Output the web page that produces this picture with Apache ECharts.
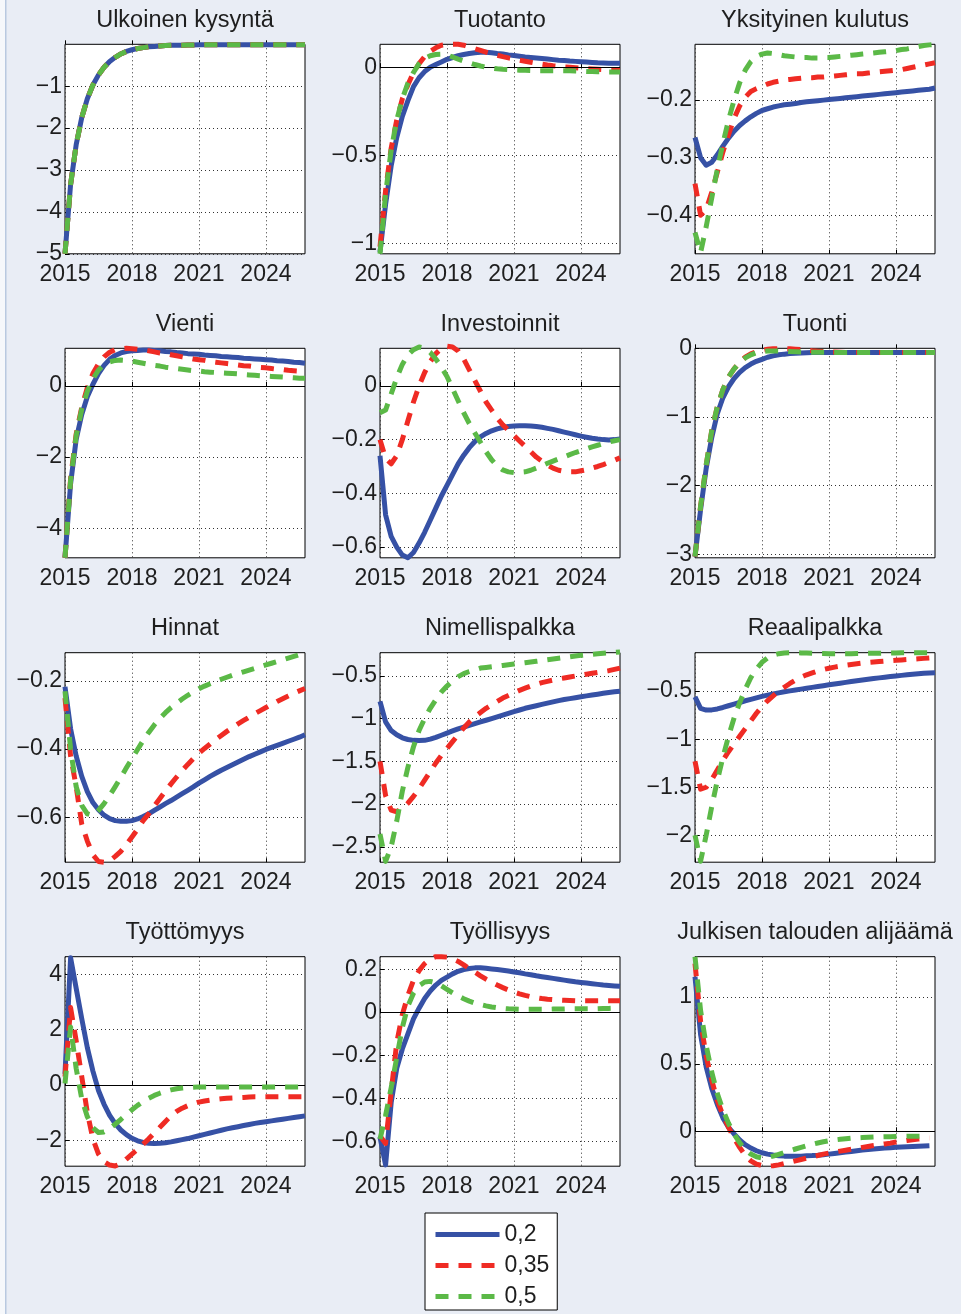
<!DOCTYPE html>
<html><head><meta charset="utf-8">
<script src="https://cdn.jsdelivr.net/npm/echarts@6/dist/echarts.min.js"></script>
<style>html,body{margin:0;padding:0;background:#e9edf5}#c{width:961px;height:1314px}</style>
</head><body><div id="c"></div><script>
const quarters = ['2015Q1','2015Q2','2015Q3','2015Q4','2016Q1','2016Q2','2016Q3','2016Q4','2017Q1','2017Q2','2017Q3','2017Q4',
'2018Q1','2018Q2','2018Q3','2018Q4','2019Q1','2019Q2','2019Q3','2019Q4','2020Q1','2020Q2','2020Q3','2020Q4',
'2021Q1','2021Q2','2021Q3','2021Q4','2022Q1','2022Q2','2022Q3','2022Q4','2023Q1','2023Q2','2023Q3','2023Q4',
'2024Q1','2024Q2','2024Q3','2024Q4','2025Q1','2025Q2','2025Q3','2025Q4'];
const titles = ['Ulkoinen kysyntä','Tuotanto','Yksityinen kulutus','Vienti','Investoinnit','Tuonti','Hinnat','Nimellispalkka','Reaalipalkka','Työttömyys','Työllisyys','Julkisen talouden alijäämä'];
const seriesNames = ['0,2','0,35','0,5'];
const yMins = [-5, -1.06, -0.467, -4.83, -0.64, -3.05, -0.732, -2.68, -2.28, -2.94, -0.716, -0.26];
const yMaxs = [0, 0.13, -0.103, 1.06, 0.14, 0, -0.117, -0.23, -0.1, 4.64, 0.26, 1.3];
const yTicks = [[-5,-4,-3,-2,-1],[-1,-0.5,0],[-0.4,-0.3,-0.2],[-4,-2,0],[-0.6,-0.4,-0.2,0],[-3,-2,-1,0],
  [-0.6,-0.4,-0.2],[-2.5,-2,-1.5,-1,-0.5],[-2,-1.5,-1,-0.5],[-2,0,2,4],[-0.6,-0.4,-0.2,0,0.2],[0,0.5,1]];
const zeroLine = [false,true,false,true,true,false,false,false,false,true,true,true];

const ulkoinen_02 = [-5.0,-3.35,-2.4,-1.75,-1.3,-0.97,-0.73,-0.55,-0.41,-0.31,-0.23,-0.17,-0.13,-0.1,-0.08,-0.06,-0.05,-0.04,-0.03,-0.025,-0.02,-0.02,-0.015,-0.015,-0.01,-0.01,-0.01,-0.01,-0.01,-0.01,-0.01,-0.01,-0.01,-0.01,-0.01,-0.01,-0.01,-0.01,-0.01,-0.01,-0.01,-0.01,-0.01,-0.01];
const ulkoinen_035 = [-5.0,-3.35,-2.4,-1.75,-1.3,-0.97,-0.73,-0.55,-0.41,-0.31,-0.23,-0.17,-0.13,-0.1,-0.08,-0.06,-0.05,-0.04,-0.03,-0.025,-0.02,-0.02,-0.015,-0.015,-0.01,-0.01,-0.01,-0.01,-0.01,-0.01,-0.01,-0.01,-0.01,-0.01,-0.01,-0.01,-0.01,-0.01,-0.01,-0.01,-0.01,-0.01,-0.01,-0.01];
const ulkoinen_05 = [-5.0,-3.35,-2.4,-1.75,-1.3,-0.97,-0.73,-0.55,-0.41,-0.31,-0.23,-0.17,-0.13,-0.1,-0.08,-0.06,-0.05,-0.04,-0.03,-0.025,-0.02,-0.02,-0.015,-0.015,-0.01,-0.01,-0.01,-0.01,-0.01,-0.01,-0.01,-0.01,-0.01,-0.01,-0.01,-0.01,-0.01,-0.01,-0.01,-0.01,-0.01,-0.01,-0.01,-0.01];

const tuotanto_02 = [-1.05,-0.78,-0.56,-0.4,-0.28,-0.19,-0.11,-0.06,-0.025,0.0,0.015,0.03,0.045,0.055,0.065,0.072,0.078,0.082,0.085,0.085,0.082,0.078,0.075,0.07,0.066,0.062,0.058,0.055,0.052,0.049,0.046,0.043,0.04,0.038,0.035,0.033,0.031,0.029,0.027,0.025,0.024,0.023,0.022,0.022];
const tuotanto_035 = [-1.02,-0.7,-0.46,-0.3,-0.18,-0.1,-0.03,0.02,0.06,0.09,0.11,0.125,0.13,0.13,0.13,0.125,0.115,0.105,0.095,0.085,0.076,0.068,0.06,0.053,0.047,0.04,0.034,0.028,0.022,0.017,0.012,0.008,0.005,0.002,0.0,-0.003,-0.006,-0.008,-0.01,-0.012,-0.014,-0.015,-0.016,-0.017];
const tuotanto_05 = [-1.06,-0.72,-0.47,-0.3,-0.18,-0.09,-0.03,0.02,0.05,0.065,0.072,0.073,0.068,0.058,0.046,0.035,0.025,0.015,0.007,0.0,-0.005,-0.009,-0.012,-0.014,-0.016,-0.017,-0.018,-0.019,-0.02,-0.02,-0.02,-0.02,-0.02,-0.02,-0.02,-0.022,-0.023,-0.024,-0.025,-0.026,-0.026,-0.027,-0.027,-0.027];

const kulutus_02 = [-0.265,-0.3,-0.313,-0.308,-0.295,-0.28,-0.266,-0.254,-0.244,-0.236,-0.229,-0.223,-0.218,-0.215,-0.212,-0.21,-0.208,-0.207,-0.206,-0.204,-0.203,-0.202,-0.201,-0.2,-0.199,-0.198,-0.197,-0.196,-0.195,-0.194,-0.193,-0.192,-0.191,-0.19,-0.189,-0.188,-0.187,-0.186,-0.185,-0.184,-0.183,-0.182,-0.181,-0.179];
const kulutus_035 = [-0.345,-0.4,-0.39,-0.36,-0.325,-0.29,-0.26,-0.232,-0.21,-0.195,-0.185,-0.18,-0.176,-0.172,-0.169,-0.167,-0.165,-0.164,-0.163,-0.162,-0.161,-0.161,-0.16,-0.16,-0.159,-0.158,-0.157,-0.156,-0.155,-0.154,-0.154,-0.153,-0.152,-0.151,-0.15,-0.149,-0.148,-0.147,-0.145,-0.143,-0.141,-0.139,-0.137,-0.135];
const kulutus_05 = [-0.43,-0.465,-0.42,-0.37,-0.32,-0.275,-0.235,-0.2,-0.17,-0.148,-0.133,-0.124,-0.12,-0.118,-0.119,-0.121,-0.123,-0.124,-0.125,-0.126,-0.126,-0.127,-0.127,-0.126,-0.126,-0.125,-0.124,-0.123,-0.122,-0.121,-0.12,-0.119,-0.118,-0.117,-0.116,-0.115,-0.114,-0.112,-0.111,-0.109,-0.107,-0.105,-0.104,-0.103];

const vienti_02 = [-4.83,-2.75,-1.5,-0.8,-0.3,0.05,0.35,0.58,0.75,0.86,0.93,0.97,0.99,1.0,1.01,1.01,1.0,0.99,0.97,0.96,0.94,0.93,0.91,0.9,0.89,0.87,0.86,0.85,0.83,0.82,0.81,0.8,0.78,0.77,0.76,0.75,0.74,0.73,0.71,0.7,0.69,0.67,0.66,0.64];
const vienti_035 = [-4.83,-2.6,-1.35,-0.6,-0.05,0.35,0.62,0.82,0.95,1.02,1.05,1.06,1.05,1.03,1.01,0.99,0.96,0.93,0.91,0.88,0.85,0.82,0.79,0.76,0.74,0.72,0.69,0.67,0.65,0.63,0.61,0.59,0.57,0.56,0.54,0.52,0.51,0.49,0.47,0.46,0.44,0.43,0.42,0.4];
const vienti_05 = [-4.83,-2.65,-1.4,-0.65,-0.15,0.2,0.45,0.6,0.68,0.72,0.73,0.72,0.7,0.67,0.64,0.61,0.58,0.56,0.53,0.51,0.49,0.47,0.45,0.43,0.42,0.4,0.39,0.38,0.37,0.36,0.35,0.34,0.32,0.31,0.3,0.29,0.28,0.27,0.26,0.25,0.24,0.23,0.22,0.22];

const investoinnit_02 = [-0.26,-0.48,-0.56,-0.6,-0.63,-0.64,-0.62,-0.585,-0.545,-0.5,-0.455,-0.41,-0.37,-0.33,-0.29,-0.258,-0.23,-0.207,-0.19,-0.177,-0.167,-0.16,-0.155,-0.151,-0.149,-0.148,-0.148,-0.149,-0.151,-0.154,-0.158,-0.162,-0.167,-0.172,-0.177,-0.182,-0.187,-0.191,-0.195,-0.198,-0.2,-0.201,-0.2,-0.198];
const investoinnit_035 = [-0.2,-0.27,-0.29,-0.26,-0.2,-0.13,-0.06,0.0,0.05,0.09,0.12,0.14,0.148,0.145,0.13,0.1,0.06,0.02,-0.02,-0.06,-0.09,-0.12,-0.145,-0.165,-0.185,-0.205,-0.225,-0.245,-0.265,-0.28,-0.295,-0.306,-0.314,-0.318,-0.32,-0.32,-0.316,-0.312,-0.306,-0.3,-0.293,-0.285,-0.277,-0.268];
const investoinnit_05 = [-0.1,-0.09,-0.03,0.03,0.08,0.115,0.135,0.145,0.14,0.125,0.1,0.07,0.035,-0.01,-0.055,-0.1,-0.14,-0.175,-0.21,-0.245,-0.275,-0.298,-0.313,-0.32,-0.323,-0.322,-0.32,-0.314,-0.306,-0.297,-0.288,-0.28,-0.272,-0.264,-0.256,-0.248,-0.241,-0.234,-0.227,-0.221,-0.215,-0.209,-0.204,-0.2];

const tuonti_02 = [-3.03,-2.35,-1.75,-1.3,-0.95,-0.72,-0.56,-0.44,-0.35,-0.28,-0.23,-0.19,-0.16,-0.13,-0.11,-0.095,-0.085,-0.077,-0.071,-0.067,-0.064,-0.062,-0.061,-0.06,-0.06,-0.06,-0.06,-0.06,-0.06,-0.06,-0.06,-0.06,-0.06,-0.06,-0.06,-0.06,-0.06,-0.06,-0.06,-0.06,-0.06,-0.06,-0.06,-0.06];
const tuonti_035 = [-3.03,-2.3,-1.7,-1.2,-0.85,-0.6,-0.42,-0.3,-0.2,-0.13,-0.08,-0.05,-0.03,-0.015,-0.008,-0.005,-0.005,-0.008,-0.012,-0.02,-0.028,-0.036,-0.042,-0.048,-0.052,-0.055,-0.058,-0.06,-0.06,-0.06,-0.06,-0.06,-0.06,-0.06,-0.06,-0.06,-0.06,-0.06,-0.06,-0.06,-0.06,-0.06,-0.06,-0.06];
const tuonti_05 = [-3.03,-2.3,-1.7,-1.2,-0.85,-0.6,-0.42,-0.3,-0.21,-0.14,-0.095,-0.065,-0.048,-0.04,-0.038,-0.04,-0.043,-0.047,-0.05,-0.053,-0.055,-0.057,-0.058,-0.059,-0.06,-0.06,-0.06,-0.06,-0.06,-0.06,-0.06,-0.06,-0.06,-0.06,-0.06,-0.06,-0.06,-0.06,-0.06,-0.06,-0.06,-0.06,-0.06,-0.06];

const hinnat_02 = [-0.217,-0.34,-0.42,-0.48,-0.525,-0.557,-0.578,-0.594,-0.604,-0.61,-0.612,-0.612,-0.61,-0.605,-0.598,-0.59,-0.58,-0.57,-0.56,-0.551,-0.541,-0.531,-0.521,-0.511,-0.5,-0.49,-0.48,-0.471,-0.462,-0.454,-0.446,-0.438,-0.43,-0.422,-0.415,-0.408,-0.401,-0.395,-0.389,-0.383,-0.377,-0.371,-0.365,-0.358];
const hinnat_035 = [-0.25,-0.42,-0.51,-0.62,-0.67,-0.71,-0.73,-0.732,-0.728,-0.715,-0.7,-0.68,-0.658,-0.635,-0.61,-0.59,-0.567,-0.545,-0.523,-0.502,-0.482,-0.463,-0.445,-0.428,-0.412,-0.398,-0.385,-0.372,-0.36,-0.348,-0.337,-0.326,-0.316,-0.306,-0.296,-0.287,-0.278,-0.269,-0.26,-0.252,-0.244,-0.236,-0.229,-0.222];
const hinnat_05 = [-0.23,-0.4,-0.51,-0.565,-0.59,-0.595,-0.58,-0.56,-0.536,-0.51,-0.483,-0.455,-0.428,-0.401,-0.375,-0.351,-0.329,-0.31,-0.293,-0.278,-0.265,-0.253,-0.242,-0.232,-0.223,-0.215,-0.208,-0.201,-0.195,-0.189,-0.183,-0.178,-0.173,-0.168,-0.163,-0.158,-0.153,-0.148,-0.143,-0.138,-0.133,-0.128,-0.123,-0.118];

const nimellis_02 = [-0.8,-1.04,-1.14,-1.19,-1.225,-1.245,-1.255,-1.258,-1.255,-1.24,-1.22,-1.195,-1.17,-1.145,-1.12,-1.1,-1.08,-1.06,-1.04,-1.02,-1.0,-0.98,-0.96,-0.94,-0.92,-0.9,-0.88,-0.865,-0.85,-0.835,-0.82,-0.805,-0.79,-0.778,-0.767,-0.756,-0.745,-0.735,-0.725,-0.715,-0.705,-0.695,-0.687,-0.68];
const nimellis_035 = [-1.5,-1.9,-2.07,-2.09,-2.05,-1.99,-1.91,-1.82,-1.72,-1.62,-1.52,-1.43,-1.35,-1.27,-1.19,-1.11,-1.04,-0.98,-0.93,-0.88,-0.84,-0.8,-0.76,-0.73,-0.7,-0.67,-0.645,-0.62,-0.6,-0.58,-0.565,-0.55,-0.537,-0.525,-0.514,-0.503,-0.492,-0.481,-0.47,-0.46,-0.45,-0.44,-0.425,-0.41];
const nimellis_05 = [-2.35,-2.67,-2.5,-2.2,-1.85,-1.57,-1.33,-1.14,-1.0,-0.88,-0.78,-0.69,-0.62,-0.56,-0.51,-0.475,-0.45,-0.43,-0.41,-0.403,-0.395,-0.387,-0.379,-0.371,-0.363,-0.355,-0.347,-0.339,-0.331,-0.322,-0.313,-0.304,-0.295,-0.286,-0.277,-0.268,-0.261,-0.255,-0.249,-0.243,-0.237,-0.231,-0.226,-0.222];

const reaali_02 = [-0.56,-0.68,-0.697,-0.695,-0.685,-0.67,-0.652,-0.635,-0.618,-0.6,-0.585,-0.57,-0.555,-0.542,-0.53,-0.518,-0.507,-0.497,-0.488,-0.479,-0.47,-0.461,-0.452,-0.443,-0.434,-0.425,-0.417,-0.409,-0.4,-0.392,-0.384,-0.376,-0.369,-0.362,-0.355,-0.348,-0.342,-0.336,-0.33,-0.325,-0.32,-0.315,-0.311,-0.308];
const reaali_035 = [-1.23,-1.52,-1.5,-1.42,-1.32,-1.22,-1.13,-1.05,-0.97,-0.89,-0.81,-0.73,-0.66,-0.6,-0.55,-0.5,-0.46,-0.42,-0.385,-0.355,-0.33,-0.31,-0.29,-0.275,-0.262,-0.25,-0.24,-0.23,-0.222,-0.215,-0.208,-0.202,-0.197,-0.192,-0.187,-0.183,-0.179,-0.175,-0.171,-0.167,-0.163,-0.159,-0.155,-0.15];
const reaali_05 = [-2.0,-2.27,-2.0,-1.7,-1.43,-1.19,-0.97,-0.78,-0.62,-0.48,-0.36,-0.27,-0.2,-0.155,-0.125,-0.11,-0.103,-0.1,-0.1,-0.102,-0.104,-0.106,-0.108,-0.109,-0.11,-0.11,-0.11,-0.11,-0.11,-0.109,-0.108,-0.107,-0.106,-0.105,-0.104,-0.103,-0.102,-0.101,-0.1,-0.1,-0.1,-0.1,-0.1,-0.1];

const tyottomyys_02 = [0.4,4.6,3.5,2.4,1.35,0.5,-0.2,-0.7,-1.1,-1.4,-1.63,-1.8,-1.93,-2.02,-2.08,-2.11,-2.12,-2.11,-2.09,-2.06,-2.02,-1.98,-1.94,-1.89,-1.84,-1.79,-1.74,-1.69,-1.64,-1.59,-1.55,-1.51,-1.47,-1.43,-1.39,-1.36,-1.33,-1.3,-1.27,-1.24,-1.21,-1.18,-1.15,-1.12];
const tyottomyys_035 = [0.3,2.8,1.6,0.3,-1.0,-1.95,-2.5,-2.78,-2.9,-2.93,-2.85,-2.68,-2.5,-2.33,-2.14,-1.95,-1.74,-1.53,-1.32,-1.12,-0.96,-0.84,-0.75,-0.68,-0.62,-0.58,-0.55,-0.52,-0.5,-0.48,-0.47,-0.46,-0.45,-0.44,-0.43,-0.43,-0.43,-0.43,-0.43,-0.43,-0.43,-0.43,-0.43,-0.43];
const tyottomyys_05 = [0.05,2.1,0.6,-0.5,-1.15,-1.55,-1.72,-1.7,-1.58,-1.42,-1.25,-1.07,-0.9,-0.74,-0.6,-0.48,-0.38,-0.3,-0.23,-0.18,-0.14,-0.11,-0.09,-0.08,-0.07,-0.07,-0.07,-0.07,-0.07,-0.07,-0.07,-0.07,-0.07,-0.07,-0.07,-0.07,-0.07,-0.07,-0.07,-0.07,-0.07,-0.07,-0.07,-0.07];

const tyollisyys_02 = [-0.58,-0.71,-0.42,-0.26,-0.17,-0.1,-0.03,0.02,0.065,0.1,0.128,0.15,0.165,0.18,0.192,0.2,0.205,0.208,0.208,0.206,0.203,0.2,0.197,0.193,0.189,0.185,0.18,0.176,0.171,0.167,0.163,0.159,0.155,0.151,0.147,0.143,0.14,0.137,0.134,0.131,0.128,0.126,0.124,0.122];
const tyollisyys_035 = [-0.575,-0.61,-0.37,-0.14,-0.01,0.08,0.15,0.195,0.228,0.25,0.26,0.26,0.258,0.25,0.238,0.222,0.205,0.188,0.171,0.155,0.141,0.128,0.116,0.105,0.095,0.087,0.08,0.074,0.069,0.065,0.062,0.06,0.058,0.057,0.056,0.055,0.055,0.055,0.055,0.055,0.055,0.055,0.055,0.055];
const tyollisyys_05 = [-0.59,-0.48,-0.35,-0.21,-0.07,0.03,0.09,0.125,0.142,0.145,0.138,0.124,0.108,0.092,0.077,0.064,0.053,0.044,0.037,0.031,0.026,0.022,0.019,0.017,0.016,0.015,0.015,0.015,0.015,0.015,0.015,0.016,0.016,0.016,0.017,0.017,0.017,0.018,0.018,0.018,0.019,0.019,0.02,0.02];

const alijaama_02 = [1.15,0.72,0.48,0.32,0.2,0.1,0.03,-0.02,-0.065,-0.1,-0.125,-0.145,-0.16,-0.17,-0.177,-0.182,-0.185,-0.186,-0.186,-0.185,-0.183,-0.181,-0.178,-0.174,-0.17,-0.165,-0.16,-0.155,-0.15,-0.145,-0.14,-0.136,-0.132,-0.128,-0.125,-0.122,-0.119,-0.117,-0.115,-0.113,-0.111,-0.109,-0.107];
const alijaama_035 = [1.25,0.82,0.56,0.38,0.23,0.12,0.03,-0.05,-0.12,-0.18,-0.22,-0.245,-0.255,-0.26,-0.256,-0.25,-0.24,-0.23,-0.22,-0.21,-0.2,-0.19,-0.18,-0.17,-0.162,-0.155,-0.148,-0.141,-0.134,-0.127,-0.12,-0.113,-0.106,-0.1,-0.094,-0.088,-0.08,-0.074,-0.068,-0.063,-0.058,-0.054,-0.05];
const alijaama_05 = [1.3,0.9,0.64,0.44,0.28,0.16,0.06,-0.02,-0.085,-0.135,-0.17,-0.19,-0.198,-0.195,-0.185,-0.172,-0.158,-0.145,-0.132,-0.12,-0.108,-0.097,-0.087,-0.078,-0.071,-0.065,-0.06,-0.056,-0.052,-0.049,-0.047,-0.045,-0.043,-0.042,-0.041,-0.04,-0.039,-0.038,-0.037,-0.037,-0.037,-0.037,-0.037];

const panelData = [
  [ulkoinen_02, ulkoinen_035, ulkoinen_05],
  [tuotanto_02, tuotanto_035, tuotanto_05],
  [kulutus_02, kulutus_035, kulutus_05],
  [vienti_02, vienti_035, vienti_05],
  [investoinnit_02, investoinnit_035, investoinnit_05],
  [tuonti_02, tuonti_035, tuonti_05],
  [hinnat_02, hinnat_035, hinnat_05],
  [nimellis_02, nimellis_035, nimellis_05],
  [reaali_02, reaali_035, reaali_05],
  [tyottomyys_02, tyottomyys_035, tyottomyys_05],
  [tyollisyys_02, tyollisyys_035, tyollisyys_05],
  [alijaama_02, alijaama_035, alijaama_05]
];

const FONT = '"Liberation Sans", Arial, Helvetica, sans-serif';
const TXT = '#1e1e1e';
const colLeft = [65, 380, 695];
const rowTop = [44.3, 348.3, 652.7, 956.7];
const W = 240, H = 209.5;
const lineColors = ['#3651a5', '#ef2b24', '#5bb947'];
const lineDash = ['solid', [13, 10], [13, 10]];
const yearTick = (idx) => idx % 12 === 0;
const fmt = (v) => String(v).replace('-', '\u2212');

const grid = [], xAxis = [], yAxis = [], series = [], graphic = [];
graphic.push({type:'rect', left:0, top:0, shape:{width:5, height:1314}, style:{fill:'#f6f8fb'}, silent:true});
graphic.push({type:'rect', left:5, top:0, shape:{width:1.5, height:1314}, style:{fill:'#b9c9e0'}, silent:true});

for (let k = 0; k < 12; k++) {
  const r = Math.floor(k / 3), c = k % 3;
  grid.push({left: colLeft[c], top: rowTop[r], width: W, height: H, show: true,
    backgroundColor: '#ffffff', borderColor: '#000000', borderWidth: 1, containLabel: false});
  xAxis.push({gridIndex: k, type: 'category', data: quarters, boundaryGap: false,
    axisLine: {show: false},
    axisTick: {show: true, inside: true, length: 4, interval: yearTick, lineStyle: {color: '#000', width: 1}},
    axisLabel: {interval: yearTick, formatter: (v) => v.slice(0, 4), fontSize: 23, fontFamily: FONT, color: TXT, margin: 9},
    splitLine: {show: true, interval: yearTick, lineStyle: {color: '#333', width: 1, type: [1, 3]}}
  });
  yAxis.push({gridIndex: k, type: 'value', min: yMins[k], max: yMaxs[k],
    axisLine: {show: false},
    axisTick: {show: true, inside: true, length: 4, customValues: yTicks[k], lineStyle: {color: '#000', width: 1}},
    axisLabel: {customValues: yTicks[k], formatter: fmt, fontSize: 23, fontFamily: FONT, color: TXT, margin: 3},
    splitLine: {show: true, lineStyle: {color: '#333', width: 1, type: [1, 3]}}
  });
  for (let s = 0; s < 3; s++) {
    const ser = {name: seriesNames[s], type: 'line', xAxisIndex: k, yAxisIndex: k,
      data: panelData[k][s], symbol: 'none', showSymbol: false, clip: false, animation: false,
      lineStyle: {color: lineColors[s], width: 5, type: lineDash[s], join: 'round'},
      itemStyle: {color: lineColors[s]}, z: 3 + s};
    if (s === 0 && zeroLine[k]) {
      ser.markLine = {silent: true, symbol: ['none', 'none'], label: {show: false}, animation: false,
        lineStyle: {color: '#000', type: 'solid', width: 1}, emphasis: {disabled: true}, data: [{yAxis: 0}]};
    }
    series.push(ser);
  }
  graphic.push({type: 'text', x: colLeft[c] + W / 2, y: rowTop[r] - 24, silent: true,
    style: {text: titles[k], fontSize: 23.5, fontFamily: FONT, fill: TXT, align: 'center', verticalAlign: 'middle'}});
}

const chart = echarts.init(document.getElementById('c'), null, {renderer: 'canvas', width: 961, height: 1314});
chart.setOption({
  backgroundColor: '#e9edf5',
  animation: false,
  grid, xAxis, yAxis, series, graphic,
  legend: {data: seriesNames, orient: 'vertical', left: 425, top: 1213,
    itemWidth: 64, itemHeight: 20, itemGap: 8, padding: [10, 8, 2, 8],
    itemStyle: {opacity: 0, borderWidth: 0},
    lineStyle: {width: 5},
    backgroundColor: '#ffffff', borderColor: '#000000', borderWidth: 1, borderRadius: 0,
    selectedMode: false, textStyle: {fontSize: 23, fontFamily: FONT, color: TXT}}
});
</script></body></html>
